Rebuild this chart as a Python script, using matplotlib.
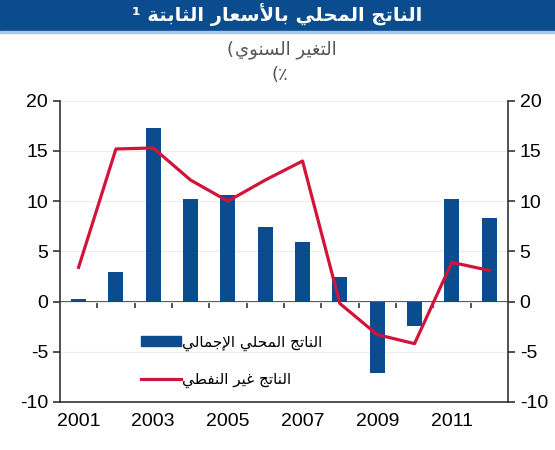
import matplotlib
matplotlib.use("Agg")
import matplotlib.pyplot as plt
from matplotlib.patches import Rectangle
from matplotlib.lines import Line2D

years = list(range(2001, 2013))
gdp_total = [0.2, 2.9, 17.3, 10.2, 10.6, 7.4, 5.9, 2.4, -7.1, -2.4, 10.2, 8.3]
gdp_nonoil = [3.4, 15.2, 15.3, 12.1, 10.0, 12.1, 14.0, -0.2, -3.3, -4.2, 3.9, 3.1]
year_labels = ["2001", "2003", "2005", "2007", "2009", "2011"]
y_ticks = [-10, -5, 0, 5, 10, 15, 20]

title_txt = "الناتج المحلي بالأسعار الثابتة ¹"
sub_txt = "التغير السنوي"
lbl_total = "الناتج المحلي الإجمالي"
lbl_nonoil = "الناتج غير النفطي"

BLUE = "#0b4c8f"
RED = "#d2143a"

# --- minimal arabic shaping (presentation forms) ---
# letter -> (first presentation form codepoint, dual joining?)
LETTERS = {
    'ا': (0xFE8D, False), 'أ': (0xFE83, False), 'إ': (0xFE87, False),
    'ب': (0xFE8F, True), 'ة': (0xFE93, False), 'ت': (0xFE95, True),
    'ث': (0xFE99, True), 'ج': (0xFE9D, True), 'ح': (0xFEA1, True),
    'ر': (0xFEAD, False), 'س': (0xFEB1, True), 'ط': (0xFEC1, True),
    'ع': (0xFEC9, True), 'غ': (0xFECD, True), 'ف': (0xFED1, True),
    'ل': (0xFEDD, True), 'م': (0xFEE1, True), 'ن': (0xFEE5, True),
    'و': (0xFEED, False), 'ي': (0xFEF1, True),
}
LAM_ALEF = {'ا': (0xFEFB, False), 'أ': (0xFEF7, False), 'إ': (0xFEF9, False)}


def ar(text):
    units = []
    i = 0
    while i < len(text):
        c = text[i]
        if c == 'ل' and i + 1 < len(text) and text[i + 1] in LAM_ALEF:
            units.append(LAM_ALEF[text[i + 1]])
            i += 2
        else:
            units.append(LETTERS.get(c, c))
            i += 1
    out = []
    for k, u in enumerate(units):
        if not isinstance(u, tuple):
            out.append(u)
            continue
        prev = units[k - 1] if k > 0 else None
        nxt = units[k + 1] if k + 1 < len(units) else None
        jp = isinstance(prev, tuple) and prev[1]
        jn = u[1] and isinstance(nxt, tuple)
        off = 3 if (jp and jn) else 1 if jp else 2 if jn else 0
        out.append(chr(u[0] + off))
    return "".join(out)[::-1]


plt.rcParams['font.family'] = ['Liberation Sans', 'DejaVu Sans']
plt.rcParams['axes.unicode_minus'] = False
AR_FONT = ['DejaVu Sans']

fig = plt.figure(figsize=(5.55, 4.5), dpi=100)
ax = fig.add_axes([0.108, 0.107, 0.807, 0.669])

x = list(range(len(years)))
ax.bar(x, gdp_total, width=0.4, color=BLUE, zorder=3)
ax.plot(x, gdp_nonoil, color=RED, lw=2.3, zorder=4)

ax.set_xlim(-0.5, len(years) - 0.5)
ax.set_ylim(-10, 20)
ax.set_yticks(y_ticks)
ax.yaxis.grid(True, color="#ececec", lw=0.8, zorder=0)
ax.tick_params(axis='y', direction='out', length=5, width=1.2, labelsize=14,
               right=True, labelright=True, colors="#333333", labelcolor="black")

ax.set_xticks([years.index(int(s)) for s in year_labels])
ax.set_xticklabels(year_labels)
ax.tick_params(axis='x', length=0, labelsize=14, pad=8)

for s in ['left', 'right', 'bottom']:
    ax.spines[s].set_color("#333333")
    ax.spines[s].set_linewidth(1.2)
ax.spines['top'].set_visible(False)

# zero line with boundary ticks
zx = ax.secondary_xaxis(1 / 3)
zx.xaxis.set_ticks_position('bottom')
zx.set_xticks([i + 0.5 for i in range(len(years) - 1)])
zx.set_xticklabels([])
zx.tick_params(direction='out', length=4, width=1.2, colors="#333333")
zx.spines['bottom'].set_color("#333333")
zx.spines['bottom'].set_linewidth(1.2)

handles = [Rectangle((0, 0), 1, 1, color=BLUE),
           Line2D([0], [0], color=RED, lw=2.3)]
ax.legend(handles, [ar(lbl_total), ar(lbl_nonoil)], loc='upper left',
          bbox_to_anchor=(0.15, 0.27), frameon=False,
          prop={'family': AR_FONT, 'size': 11},
          handlelength=2.6, handleheight=0.55, handletextpad=0.1,
          labelspacing=1.4)

# title bar
fig.patches.append(Rectangle((0, 1 - 31 / 450), 1, 31 / 450, transform=fig.transFigure,
                             color=BLUE, zorder=0))
fig.patches.append(Rectangle((0, 1 - 33 / 450), 1, 2 / 450, transform=fig.transFigure,
                             color="#a9c6e2", zorder=0))
fig.text(0.5, 1 - 15 / 450, ar(title_txt), color="white", fontsize=14,
         fontweight='bold', family=AR_FONT, ha='center', va='center')

# subtitle: arabic part, then the bracket placed to its left
sub = fig.text(0.515, 1 - 50 / 450, ar(sub_txt), color="#555555", fontsize=13,
               family=AR_FONT, ha='center', va='center')
fig.canvas.draw()
bb = sub.get_window_extent().transformed(fig.transFigure.inverted())
fig.text(bb.x0 - 0.002, 1 - 50 / 450, "(", color="#555555", fontsize=13,
         family=AR_FONT, ha='right', va='center')
fig.text(0.505, 1 - 75 / 450, "(٪", color="#555555", fontsize=13,
         family=AR_FONT, ha='center', va='center')

fig.savefig("out.png", dpi=100)
